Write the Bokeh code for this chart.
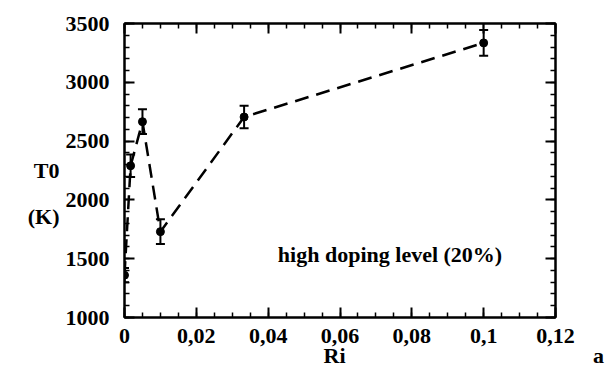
from bokeh.plotting import figure
from bokeh.models import (ColumnDataSource, Whisker, TeeHead, FixedTicker, LinearAxis,
                          CustomJSTickFormatter, Label, Range1d)
from bokeh.embed import file_html
from bokeh.resources import INLINE

# ---- data ----
ri = [0.0, 0.0017, 0.005, 0.01, 0.0333, 0.1]
t0 = [1360, 2290, 2665, 1730, 2705, 3335]
t0_err = [60, 95, 105, 105, 95, 110]

x_ticks = [0, 0.02, 0.04, 0.06, 0.08, 0.1, 0.12]
x_tick_labels = ["0", "0,02", "0,04", "0,06", "0,08", "0,1", "0,12"]
x_minor = [i * 0.005 for i in range(25)]
y_ticks = [1000, 1500, 2000, 2500, 3000, 3500]
y_minor = list(range(1000, 3600, 100))

FONT = "Liberation Serif"
FS = "22px"
NB = "\u00a0"

src = ColumnDataSource(dict(
    x=ri, y=t0,
    lower=[v - e for v, e in zip(t0, t0_err)],
    upper=[v + e for v, e in zip(t0, t0_err)],
))

p = figure(width=612, height=370, output_backend="svg", toolbar_location=None,
           x_range=Range1d(0, 0.12), y_range=Range1d(1000, 3500),
           x_axis_location=None, y_axis_location=None,
           min_border_left=124, min_border_right=57, min_border_top=23, min_border_bottom=48)
p.grid.visible = False
p.outline_line_color = "black"
p.outline_line_width = 2
p.background_fill_color = "white"
p.border_fill_color = "white"

xfmt = CustomJSTickFormatter(args=dict(tvals=x_ticks, tlabs=x_tick_labels), code="""
let best = 0, bd = 1e9;
for (let i = 0; i < tvals.length; i++) { const d = Math.abs(tvals[i] - tick); if (d < bd) { bd = d; best = i; } }
return tlabs[best];
""")
blank = CustomJSTickFormatter(code="return ''")


def style(ax):
    ax.axis_line_width = 2
    ax.major_tick_in = 10
    ax.major_tick_out = 0
    ax.minor_tick_in = 5
    ax.minor_tick_out = 0
    ax.major_tick_line_width = 2
    ax.minor_tick_line_width = 1.5
    ax.major_label_text_font = FONT
    ax.major_label_text_font_style = "bold"
    ax.major_label_text_font_size = FS
    ax.major_label_text_color = "black"
    ax.major_label_standoff = 11
    ax.axis_label_text_font = FONT
    ax.axis_label_text_font_style = "bold"
    ax.axis_label_text_font_size = FS
    ax.axis_label_text_color = "black"


for loc, fmt in (("below", xfmt), ("above", blank)):
    ax = LinearAxis(ticker=FixedTicker(ticks=x_ticks, minor_ticks=x_minor), formatter=fmt)
    style(ax)
    if loc == "above":
        ax.major_label_standoff = 0
    else:
        # "Ri" under the axis, "a" at the far right of the same line
        ax.axis_label = NB * 45 + "Ri" + NB * 45 + "a"
        ax.axis_label_standoff = -3
        ax.axis_label_text_line_height = 1.0
    p.add_layout(ax, loc)

yfmt = CustomJSTickFormatter(code="return tick.toFixed(0)")
for loc, fmt in (("left", yfmt), ("right", blank)):
    ax = LinearAxis(ticker=FixedTicker(ticks=y_ticks, minor_ticks=y_minor), formatter=fmt)
    style(ax)
    if loc == "right":
        ax.major_label_standoff = 0
    else:
        ax.major_label_standoff = 15
        ax.axis_label = "\nT0\n(K)"
        ax.axis_label_orientation = "horizontal"
        ax.axis_label_standoff = 3
        ax.axis_label_text_line_height = 1.85
    p.add_layout(ax, loc)

p.line("x", "y", source=src, line_color="black", line_width=2.5, line_dash="14 8")
p.add_layout(Whisker(source=src, base="x", lower="lower", upper="upper",
                     line_color="black", line_width=2,
                     lower_head=TeeHead(size=9, line_width=2, line_color="black"),
                     upper_head=TeeHead(size=9, line_width=2, line_color="black")))
p.scatter("x", "y", source=src, size=8, marker="circle", fill_color="black", line_color="black")

p.add_layout(Label(x=0.0427, y=1535, text="high doping level (20%)", text_font=FONT,
                   text_font_style="bold", text_font_size=FS, text_align="left",
                   text_baseline="middle", text_color="black"))

open("out.html", "w").write(file_html(p, INLINE))
